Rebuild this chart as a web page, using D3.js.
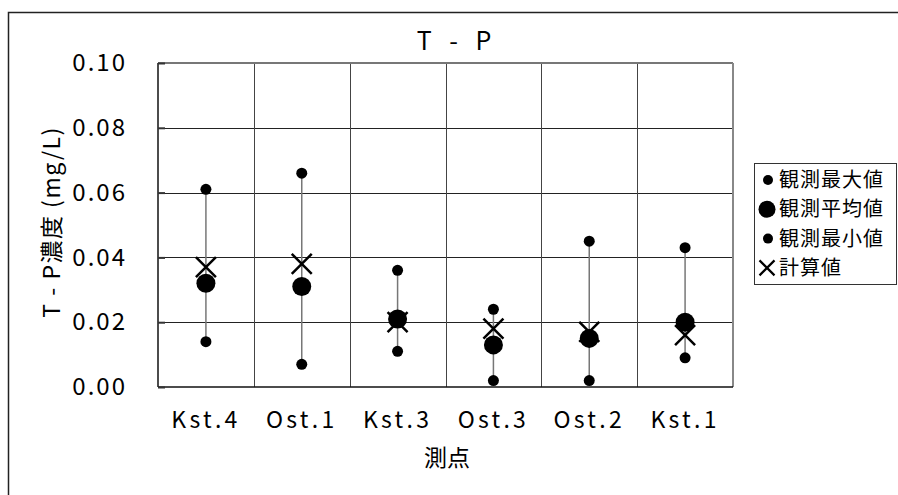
<!DOCTYPE html>
<html>
<head>
<meta charset="utf-8">
<script src="https://cdn.jsdelivr.net/npm/d3@7"></script>
<style>
  html, body { margin: 0; padding: 0; background: #fff; }
  svg { display: block; }
  text { font-family: "Noto Sans CJK JP", "DejaVu Sans", sans-serif; fill: #000; }
</style>
</head>
<body>
<svg id="chart" width="898" height="495"></svg>
<script>
// Sampling stations along the x axis
const stations = ["Kst.4", "Ost.1", "Kst.3", "Ost.3", "Ost.2", "Kst.1"];
// Observed maximum, mean and minimum, and the computed value (mg/L)
const obsMax  = [0.061, 0.066, 0.036, 0.024, 0.045, 0.043];
const obsMean = [0.032, 0.031, 0.021, 0.013, 0.015, 0.020];
const obsMin  = [0.014, 0.007, 0.011, 0.002, 0.002, 0.009];
const calc    = [0.037, 0.038, 0.020, 0.018, 0.017, 0.016];
const yTicks  = [0.00, 0.02, 0.04, 0.06, 0.08, 0.10];
const legendLabels = ["観測最大値", "観測平均値", "観測最小値", "計算値"];

const svg = d3.select("#chart");
const plot = { left: 158, top: 63, right: 733, bottom: 387 };

// Outer chart frame
svg.append("rect")
  .attr("x", 8.5).attr("y", 12.5).attr("width", 895).attr("height", 490)
  .attr("fill", "none").attr("stroke", "#222").attr("stroke-width", 1.5);

const x = d3.scaleBand().domain(stations).range([plot.left, plot.right]).padding(0);
const y = d3.scaleLinear().domain([0, 0.10]).range([plot.bottom, plot.top]);

// Grid lines
const g = svg.append("g");
g.selectAll("line.hgrid").data(yTicks.slice(1, -1)).join("line")
  .attr("x1", plot.left).attr("x2", plot.right)
  .attr("y1", d => Math.round(y(d)) + 0.5).attr("y2", d => Math.round(y(d)) + 0.5)
  .attr("stroke", "#222").attr("stroke-width", 1);
g.selectAll("line.vgrid").data(stations.slice(1)).join("line")
  .attr("x1", d => Math.round(x(d)) + 0.5).attr("x2", d => Math.round(x(d)) + 0.5)
  .attr("y1", plot.top).attr("y2", plot.bottom)
  .attr("stroke", "#444").attr("stroke-width", 1);

// Plot border: top/right gray, left/bottom dark
g.append("line").attr("x1", plot.left).attr("x2", plot.right)
  .attr("y1", plot.top).attr("y2", plot.top).attr("stroke", "#777").attr("stroke-width", 2);
g.append("line").attr("x1", plot.right).attr("x2", plot.right)
  .attr("y1", plot.top).attr("y2", plot.bottom).attr("stroke", "#888").attr("stroke-width", 2);
g.append("line").attr("x1", plot.left).attr("x2", plot.left)
  .attr("y1", plot.top).attr("y2", plot.bottom).attr("stroke", "#111").attr("stroke-width", 1.5);
g.append("line").attr("x1", plot.left).attr("x2", plot.right)
  .attr("y1", plot.bottom).attr("y2", plot.bottom).attr("stroke", "#111").attr("stroke-width", 1.5);

// Y axis ticks and labels
const yAxis = d3.axisLeft(y).tickValues(yTicks).tickFormat(d3.format(".2f"))
  .tickSizeInner(-7).tickSizeOuter(0).tickPadding(31);
const ya = svg.append("g").attr("transform", `translate(${plot.left},0)`).call(yAxis);
ya.select(".domain").remove();
ya.selectAll(".tick line").attr("stroke", "#333").attr("stroke-width", 2);
ya.selectAll(".tick text").attr("font-size", 24).attr("letter-spacing", 2)
  .attr("font-family", "'Noto Sans CJK JP', sans-serif").attr("fill", "#000");

// X axis labels
const xAxis = d3.axisBottom(x).tickSize(0).tickPadding(25);
const xa = svg.append("g").attr("transform", `translate(0,${plot.bottom})`).call(xAxis);
xa.select(".domain").remove();
xa.selectAll(".tick text").attr("font-size", 23).attr("letter-spacing", 3.2)
  .attr("font-family", "'Noto Sans CJK JP', sans-serif").attr("fill", "#000");

// Title and axis titles
svg.append("text").attr("x", 457).attr("y", 50).attr("text-anchor", "middle")
  .attr("font-size", 25).attr("letter-spacing", 6).text("T - P");
svg.append("text").attr("x", 447).attr("y", 466).attr("text-anchor", "middle")
  .attr("font-size", 23).text("測点");
svg.append("text")
  .attr("transform", "translate(60,222) rotate(-90)")
  .attr("text-anchor", "middle").attr("font-size", 23).attr("letter-spacing", 1.5)
  .text("T - P濃度 (mg/L)");

// Range lines from max to min
const cx = d => x(d) + x.bandwidth() / 2;
const marks = svg.append("g");
marks.selectAll("line.range").data(stations).join("line")
  .attr("x1", cx).attr("x2", cx)
  .attr("y1", (d, i) => y(obsMax[i])).attr("y2", (d, i) => y(obsMin[i]))
  .attr("stroke", "#777").attr("stroke-width", 1.5);

// Observed max and min dots
marks.selectAll("circle.max").data(stations).join("circle")
  .attr("cx", cx).attr("cy", (d, i) => y(obsMax[i])).attr("r", 5.5).attr("fill", "#000");
marks.selectAll("circle.min").data(stations).join("circle")
  .attr("cx", cx).attr("cy", (d, i) => y(obsMin[i])).attr("r", 5.5).attr("fill", "#000");

// Computed value crosses
const crossPath = (px, py, s) =>
  `M${px - s},${py - s}L${px + s},${py + s}M${px - s},${py + s}L${px + s},${py - s}`;
marks.selectAll("path.calc").data(stations).join("path")
  .attr("d", (d, i) => crossPath(cx(d), y(calc[i]), 10))
  .attr("stroke", "#000").attr("stroke-width", 2.5).attr("fill", "none");

// Observed mean dots
marks.selectAll("circle.mean").data(stations).join("circle")
  .attr("cx", cx).attr("cy", (d, i) => y(obsMean[i])).attr("r", 9.5).attr("fill", "#000");

// Legend
const lg = svg.append("g");
lg.append("rect").attr("x", 754.5).attr("y", 163.5).attr("width", 142).attr("height", 121)
  .attr("fill", "#fff").attr("stroke", "#333").attr("stroke-width", 1);
const rowY = i => 180 + i * 29.3;
lg.selectAll("text").data(legendLabels).join("text")
  .attr("x", 779).attr("y", (d, i) => rowY(i) + 7)
  .attr("font-size", 20).attr("letter-spacing", 1).text(d => d);
lg.append("circle").attr("cx", 768).attr("cy", rowY(0)).attr("r", 5).attr("fill", "#000");
lg.append("circle").attr("cx", 767).attr("cy", rowY(1)).attr("r", 8.5).attr("fill", "#000");
lg.append("circle").attr("cx", 768).attr("cy", rowY(2)).attr("r", 5).attr("fill", "#000");
lg.append("path").attr("d", crossPath(767, rowY(3), 7.5))
  .attr("stroke", "#000").attr("stroke-width", 2.2).attr("fill", "none");
</script>
</body>
</html>
